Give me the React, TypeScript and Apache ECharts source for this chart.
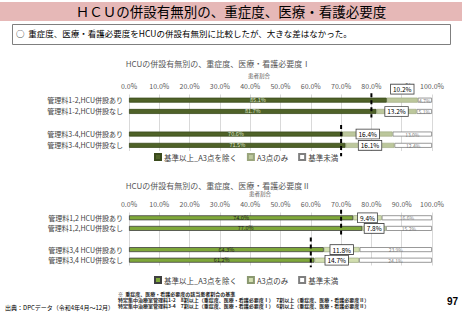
import React, { useEffect, useRef } from "react";
import * as echarts from "echarts";

const catsI = ["管理料1-2,HCU併設あり", "管理料1-2,HCU併設なし", "", "管理料3-4,HCU併設あり", "管理料3-4,HCU併設なし"];
const catsII = ["管理料1,2 HCU併設あり", "管理料1,2,HCU併設なし", "", "管理料3,4 HCU併設あり", "管理料3,4 HCU併設なし"];
const aboveI = [85.1, 81.7, null, 70.6, 71.5];
const a3I = [10.2, 13.2, null, 16.4, 16.1];
const belowI = [4.7, 5.1, null, 13.0, 12.4];
const aboveII = [74.0, 77.0, null, 64.3, 61.2];
const a3II = [9.4, 7.8, null, 11.8, 14.7];
const belowII = [16.6, 15.2, null, 23.9, 24.1];
// standard thresholds [value, first row index, last row index]
const thresholdsI = [[80, 0, 1], [70, 3, 4]];
const thresholdsII = [[70, 0, 1], [60, 3, 4]];
const seriesNames = ["基準以上_A3点を除く", "A3点のみ", "基準未満"];

// pixel extents of dashed lines (above first row, below last row)
const lineExtI = [[7, 6], [9, 11]];
const lineExtII = [[8, 6], [12, 7]];

const FONT = "'Noto Sans CJK JP', 'Noto Sans', sans-serif";
const pct = (v: number) => v.toFixed(1) + "%";

export default function App() {
  const ref = useRef<HTMLDivElement>(null);
  useEffect(() => {
    const chart = echarts.init(ref.current!, null, { renderer: "svg" });

    const mkX = (idx: number) => ({
      type: "value",
      gridIndex: idx,
      position: "top",
      min: 0,
      max: 100,
      interval: 10,
      axisLine: { show: false },
      axisTick: { show: false },
      splitLine: { show: true, lineStyle: { color: "#d9d9d9", width: 1 } },
      axisLabel: { formatter: (v: number) => v.toFixed(1) + "%", fontSize: 7, color: "#595959", margin: 5, fontFamily: FONT },
    });
    const mkY = (idx: number, cats: string[]) => ({
      type: "category",
      gridIndex: idx,
      data: cats,
      inverse: true,
      axisLine: { show: false },
      axisTick: { show: false },
      axisLabel: { fontSize: 7, color: "#404040", margin: 6, fontFamily: FONT },
    });

    const mkBars = (idx: number, suffix: string, data: any[], colors: any, a3Offset: number[][]) => {
      const [ab, a3, bl] = data;
      return [
        {
          name: seriesNames[0] + suffix,
          type: "bar",
          stack: "s" + idx,
          xAxisIndex: idx,
          yAxisIndex: idx,
          barWidth: 5,
          data: ab,
          itemStyle: { color: colors.green, borderColor: colors.greenBorder, borderWidth: 0.8 },
          label: {
            show: true,
            position: "inside",
            fontSize: 5.5,
            color: colors.greenText,
            fontFamily: FONT,
            formatter: (p: any) => pct(p.value),
          },
        },
        {
          name: seriesNames[1] + suffix,
          type: "bar",
          stack: "s" + idx,
          xAxisIndex: idx,
          yAxisIndex: idx,
          barWidth: 5,
          data: a3.map((v: any, i: number) =>
            v == null ? null : { value: v, label: { offset: a3Offset[i] || [0, 0] } }
          ),
          itemStyle: { color: colors.a3, borderColor: colors.a3Border, borderWidth: 0.6 },
          label: {
            show: true,
            position: "inside",
            fontSize: 6.5,
            color: "#000",
            backgroundColor: "#fff",
            borderColor: "#404040",
            borderWidth: 0.8,
            padding: [1.5, 2, 1, 2],
            fontFamily: FONT,
            formatter: (p: any) => pct(p.value),
          },
          z: 3,
        },
        {
          name: seriesNames[2] + suffix,
          type: "bar",
          stack: "s" + idx,
          xAxisIndex: idx,
          yAxisIndex: idx,
          barWidth: 5,
          data: bl,
          itemStyle: { color: "#ffffff", borderColor: "#7f7f7f", borderWidth: 0.8 },
          label: {
            show: true,
            position: "inside",
            fontSize: 5,
            color: "#7f7f7f",
            fontFamily: FONT,
            formatter: (p: any) => pct(p.value),
          },
        },
      ];
    };

    const mkLines = (idx: number, th: number[][], ext: number[][]) => ({
      type: "custom",
      xAxisIndex: idx,
      yAxisIndex: idx,
      data: th,
      z: 10,
      silent: true,
      renderItem: (params: any, api: any) => {
        const x = api.value(0);
        const t = api.coord([x, api.value(1)]);
        const b = api.coord([x, api.value(2)]);
        const e = ext[params.dataIndex];
        return {
          type: "line",
          shape: { x1: t[0], y1: t[1] - e[0], x2: t[0], y2: b[1] + e[1] },
          style: { stroke: "#000", lineWidth: 2, lineDash: [4, 3] },
        };
      },
    });

    const colorsI = { green: "#4f6228", greenBorder: "#3a4a1c", greenText: "#dfe6cc", a3: "#bcc79c", a3Border: "#9aa57c" };
    const colorsII = { green: "#7fa83a", greenBorder: "#404040", greenText: "#1a1a1a", a3: "#d3dfb0", a3Border: "#8a9870" };

    const legendBase = {
      orient: "horizontal",
      left: 154,
      padding: 0,
      itemWidth: 6,
      itemHeight: 6,
      itemGap: 10,
      icon: "rect",
      textStyle: { fontSize: 7.5, color: "#404040", fontFamily: FONT, padding: [0, 0, 0, -2] },
      selectedMode: false,
    };

    const titleBase = { padding: 0, textAlign: "center" };

    chart.setOption({
      animation: false,
      textStyle: { fontFamily: FONT },
      grid: [
        { left: 129, width: 303, top: 94.5, height: 56.5 },
        { left: 129, width: 303, top: 212.5, height: 53 },
      ],
      xAxis: [mkX(0), mkX(1)],
      yAxis: [mkY(0, catsI), mkY(1, catsII)],
      legend: [
        { ...legendBase, top: 153, data: seriesNames },
        { ...legendBase, top: 276, data: seriesNames.map((n) => n + " "), formatter: (n: string) => n.trim() },
      ],
      title: [
        { ...titleBase, text: "HCUの併設有無別の、重症度、医療・看護必要度Ⅰ", left: 218, top: 59, textStyle: { fontSize: 8, fontWeight: "normal", color: "#595959", fontFamily: FONT } },
        { ...titleBase, text: "患者割合", left: 259, top: 73, textStyle: { fontSize: 5.5, fontWeight: "normal", color: "#595959", fontFamily: FONT } },
        { ...titleBase, text: "HCUの併設有無別の、重症度、医療・看護必要度Ⅱ", left: 218, top: 181, textStyle: { fontSize: 8, fontWeight: "normal", color: "#595959", fontFamily: FONT } },
        { ...titleBase, text: "患者割合", left: 260, top: 191, textStyle: { fontSize: 5.5, fontWeight: "normal", color: "#595959", fontFamily: FONT } },
      ],
      graphic: [
        { type: "rect", left: 0, top: 2, shape: { width: 462, height: 19 }, style: { fill: "#e6b8b7" }, z: 0 },
        {
          type: "text",
          left: "center",
          top: 4,
          style: { text: "ＨＣＵの併設有無別の、重症度、医療・看護必要度", fontSize: 13.5, fill: "#000", fontFamily: FONT },
        },
        { type: "rect", left: 12, top: 24, shape: { width: 438, height: 20 }, style: { fill: "#fff", stroke: "#7f7f7f", lineWidth: 1 } },
        {
          type: "text",
          left: 16,
          top: 29,
          style: { text: "○  重症度、医療・看護必要度をHCUの併設有無別に比較したが、大きな差はなかった。", fontSize: 8.5, fill: "#000", fontFamily: FONT },
        },
        {
          type: "text",
          left: 118,
          top: 290,
          style: {
            text:
              "※  重症度、医療・看護必要度の該当患者割合の基準\n特定集中治療室管理料1-2　8割以上（重症度、医療・看護必要度Ⅰ）　7割以上（重症度、医療・看護必要度Ⅱ）\n特定集中治療室管理料3-4　7割以上（重症度、医療・看護必要度Ⅰ）　6割以上（重症度、医療・看護必要度Ⅱ）",
            fontSize: 5,
            lineHeight: 6.3,
            fill: "#262626",
            fontWeight: "bold",
            fontFamily: FONT,
          },
        },
        {
          type: "text",
          left: 5,
          top: 304,
          style: { text: "出典：DPCデータ（令和4年4月～12月）", fontSize: 6, fill: "#000", fontFamily: FONT },
        },
        {
          type: "text",
          right: 4,
          top: 296,
          style: { text: "97", fontSize: 10, fontWeight: "bold", fill: "#000", fontFamily: "'Liberation Sans', sans-serif" },
        },
      ],
      series: [
        ...mkBars(0, "", [aboveI, a3I, belowI], colorsI, [[0, -11]]),
        ...mkBars(1, " ", [aboveII, a3II, belowII], colorsII, []),
        mkLines(0, thresholdsI, lineExtI),
        mkLines(1, thresholdsII, lineExtII),
      ],
    });
    return () => chart.dispose();
  }, []);
  return (
    <div style={{ position: "fixed", left: 0, top: 0, width: 462, height: 320, background: "#fff" }}>
      <div ref={ref} style={{ width: 462, height: 320 }} />
    </div>
  );
}
